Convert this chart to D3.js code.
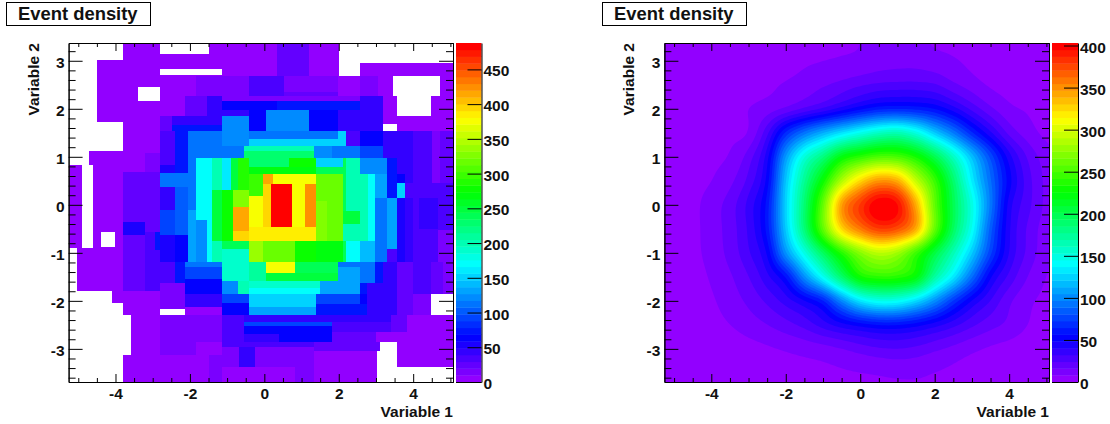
<!DOCTYPE html>
<html>
<head>
<meta charset="utf-8">
<title>Event density</title>
<script src="https://cdn.jsdelivr.net/npm/d3@7"></script>
<style>
  body { margin: 0; background: #ffffff; }
  text { font-family: "Liberation Sans", Arial, sans-serif; font-weight: bold; fill: #111111; }
</style>
</head>
<body>
<svg id="chart" width="1110" height="424"></svg>
<script>
const titleText = 'Event density';
const xLabel = 'Variable 1';
const yLabel = 'Variable 2';

const xDomain = [-5.26, 5.07];
const yDomain = [3.37, -3.69];
const xMajor = [-4, -2, 0, 2, 4];
const yMajor = [-3, -2, -1, 0, 1, 2, 3];
const leftScaleMax = 488;
const rightScaleMax = 403;
const leftScaleTicks = [0, 50, 100, 150, 200, 250, 300, 350, 400, 450];
const rightScaleTicks = [0, 50, 100, 150, 200, 250, 300, 350, 400];

// left plot: adaptive bins, [x0, x1, yTop, yBottom, events]. later cells sit on top
const foamCells = [
  [-3.80,2.01,3.37,2.69,8],[-4.50,-3.80,3.02,1.73,8],[-3.80,-1.84,2.69,2.26,8],[-3.80,-2.13,2.26,1.84,8],
  [-3.80,-2.80,1.84,1.08,8],[-4.71,-3.21,1.13,.83,8],[-4.60,-3.80,.83,-.90,8],[-5.26,-4.90,.83,-.90,8],
  [-3.80,-3.21,.83,.69,8],[-5.03,-3.80,-.90,-1.79,8],[-4.09,-3.80,-1.79,-2.04,8],[-3.80,-2.80,-1.79,-2.29,8],
  [-3.58,-2.80,-2.29,-3.13,8],[-3.80,-1.49,-3.13,-3.69,8],
  [-4.39,-4.01,-.56,-.88,0],[-3.40,-2.80,2.46,2.17,0],[-2.80,-1.14,2.83,2.71,0],[-2.80,-1.49,3.37,3.15,0],
  [.34,1.20,3.37,3.10,20],[.34,1.20,3.10,2.69,25],[2.57,5.07,2.96,2.69,8],
  [-1.84,-.41,2.69,2.26,17],[-.41,.53,2.69,2.26,37],[.53,1.98,2.69,2.34,17],[.53,1.98,2.34,2.26,25],
  [1.98,2.57,2.69,2.26,8],[2.57,3.06,2.69,2.26,17],[3.06,3.46,2.69,2.26,8],[4.72,5.07,2.69,2.26,8],
  [-2.13,-1.54,2.26,1.84,25],[-1.54,-1.14,2.26,1.84,45],[-1.14,2.57,2.26,2.17,14],[-1.14,.34,2.17,1.98,62],
  [.34,2.57,2.17,1.98,70],[-1.14,-.41,1.98,1.84,45],[-.41,.05,1.98,1.54,68],[.05,1.20,1.98,1.54,122],
  [1.20,1.98,1.98,1.54,64],[1.98,2.57,1.98,1.54,45],[2.57,3.19,2.26,1.54,42],[3.19,3.57,2.26,1.69,8],
  [4.48,5.07,2.26,1.84,8],[3.57,5.07,1.84,1.54,8],
  [-2.80,-2.47,1.84,1.54,20],[-2.47,-1.14,1.84,1.67,45],[-2.47,-1.14,1.67,1.54,70],
  [-1.14,-.41,1.84,1.23,122],[-1.14,-.55,1.23,.98,115],
  [-2.80,-2.40,1.54,.83,37],[-2.80,-2.40,.83,.67,55],[-2.80,-2.05,.67,.38,110],[-2.80,-2.40,.38,-.10,42],
  [-2.80,-2.40,-.10,-.63,95],[-2.80,-2.40,-.63,-1.19,55],[-2.40,-2.05,1.54,.67,70],[-2.40,-2.05,.38,-.63,100],
  [-2.40,-2.05,-.63,-1.19,62],[-2.05,-1.84,1.54,-.10,110],[-2.05,-1.84,-.10,-1.19,136],[-1.84,-1.14,1.54,.98,110],
  [-.41,1.98,1.54,1.38,110],[-.41,2.20,1.38,1.23,148],[1.98,2.20,1.54,1.38,148],[2.20,2.57,1.54,1.23,37],
  [2.57,3.19,1.54,1.23,66],[3.19,4.00,1.54,.98,44],[4.00,4.51,1.54,.15,37],[4.51,4.72,1.54,.46,14],
  [4.72,5.07,1.54,.46,24],[4.51,5.07,.46,.15,34],[3.57,4.00,.98,.65,44],[3.30,3.57,.98,.15,70],
  [3.57,3.78,.65,.46,62],[3.78,4.00,.65,.46,45],[3.57,3.78,.46,.15,148],[3.78,4.00,.46,.15,37],
  [3.57,3.78,.15,-1.19,55],[3.78,4.00,.15,-1.19,40],[4.00,4.16,.15,-1.19,37],[4.16,4.67,.15,-.50,44],
  [4.16,4.67,-.50,-1.19,37],[4.67,5.07,.15,-.52,37],[4.67,5.07,-.52,-1.19,14],
  [-.55,1.34,1.23,1.13,200],[-.55,1.34,1.13,.98,233],[1.34,1.82,1.23,.98,122],[1.82,2.57,1.23,.98,110],[2.57,3.19,1.23,.98,90],
  [-1.84,-1.41,.98,-.31,174],[-1.41,-1.14,.98,.31,200],[-1.14,-.90,.98,.31,165],[-.90,-.71,.98,.31,250],[-.71,-.41,.98,.31,285],
  [-.41,.66,.98,.79,233],[.66,1.39,.98,.79,275],[-.41,1.39,.79,.65,265],[1.39,2.12,.98,.79,148],[2.12,2.20,.98,.65,235],
  [1.39,2.12,.79,.65,240],[2.20,2.57,.98,.65,200],[2.57,3.30,.98,.65,122],
  [-.41,-.03,.65,.19,300],[-.03,.23,.65,.44,410],[.23,1.39,.65,.44,371],[-.03,.18,.44,-.46,395],[.18,.74,.44,-.46,485],
  [.74,1.09,.44,-.46,371],[1.09,1.39,.44,-.46,422],[-.41,-.03,.19,-.46,371],[-.84,-.41,.31,-.04,330],[-.84,-.41,-.04,-.54,410],
  [-.84,-.41,-.54,-.75,395],[-.41,1.39,-.46,-.75,383],[-1.14,-.84,.31,-.75,279],[-1.41,-1.14,.31,-.75,245],
  [-1.84,-1.54,-.31,-1.19,122],[-1.54,-1.41,-.31,-1.19,174],[-1.41,-1.14,-.75,-1.19,200],[-1.14,-.41,-.75,-.92,235],
  [-1.14,-.41,-.92,-1.58,195],[-.41,-.03,-.75,-1.19,340],[-.03,.83,-.75,-1.19,318],[.83,1.39,-.75,-1.19,279],
  [1.39,2.12,-.75,-1.19,265],[2.12,2.20,-.75,-1.19,235],
  [1.39,2.12,.65,.08,315],[1.39,1.69,.08,-.75,330],[1.69,2.12,.08,-.75,315],[2.12,2.20,.65,-.13,235],
  [2.20,2.57,.65,-.13,200],[2.12,2.57,-.13,-.40,245],[2.12,2.57,-.40,-.75,200],[2.57,2.79,.65,-.75,200],[2.79,2.98,.65,-.75,174],
  [2.98,3.30,.65,.15,130],[2.98,3.30,.15,-1.19,110],[3.30,3.57,.15,-.92,136],[3.30,3.57,-.92,-1.19,37],
  [2.20,2.57,-.75,-1.19,174],[2.57,2.98,-.75,-1.19,140],
  [-2.80,-2.40,-1.19,-1.63,37],[-2.40,-2.13,-1.19,-1.63,70],[-2.13,-1.14,-1.19,-1.29,110],[-2.13,-1.14,-1.29,-1.54,95],
  [-2.13,-1.14,-1.54,-1.85,66],[-1.14,-.71,-1.58,-1.85,122],[-.71,-.41,-1.58,-1.85,200],[-.41,.05,-1.19,-1.58,208],
  [.05,.83,-1.19,-1.42,371],[.83,1.98,-1.19,-1.42,240],[.05,1.98,-1.42,-1.58,250],[-.41,1.50,-1.58,-1.73,190],
  [-.41,1.50,-1.73,-1.85,170],[1.50,1.98,-1.58,-1.85,130],[1.98,2.57,-1.19,-1.29,115],[1.98,2.57,-1.29,-1.85,130],
  [2.57,2.98,-1.19,-1.63,110],[2.98,3.19,-1.19,-1.63,70],[3.19,3.57,-1.19,-1.63,44],[3.57,4.00,-1.19,-2.29,25],
  [4.00,4.48,-1.19,-1.85,37],[4.48,4.80,-1.19,-1.85,20],[4.80,5.07,-1.19,-1.85,14],[4.00,4.48,-1.85,-2.29,14],
  [2.57,2.76,-1.63,-1.85,70],[2.76,3.57,-1.63,-2.06,42],
  [-2.13,-1.14,-1.85,-2.13,44],[-2.13,-1.14,-2.13,-2.29,8],[-2.80,-2.13,-1.63,-2.17,17],[-1.14,-.41,-1.85,-2.04,95],
  [-1.14,-.41,-2.04,-2.29,62],[-.41,1.39,-1.85,-2.13,148],[-.41,1.39,-2.13,-2.29,136],[1.39,2.57,-1.85,-2.06,88],
  [2.57,2.76,-1.85,-2.06,62],[1.39,2.76,-2.06,-2.29,70],[2.76,3.57,-2.06,-2.29,42],
  [-.55,3.41,-2.29,-2.44,44],[-2.80,-1.84,-2.29,-3.13,17],[-1.84,-1.14,-2.29,-2.85,17],[-1.84,-1.14,-2.85,-3.13,8],
  [-1.14,-.55,-2.29,-2.85,37],[-.55,1.82,-2.44,-2.52,90],[-.55,1.82,-2.52,-2.69,62],[-.55,.40,-2.69,-2.85,44],
  [.40,1.82,-2.69,-2.85,62],[1.82,3.41,-2.44,-2.65,37],[3.41,3.84,-2.29,-2.65,25],[3.84,5.07,-2.29,-2.65,8],
  [1.82,3.00,-2.65,-2.85,24],[3.00,5.07,-2.65,-2.85,8],[-1.14,1.34,-2.85,-2.96,33],[1.34,3.11,-2.85,-3.04,25],
  [3.57,5.07,-2.85,-3.38,8],[-1.14,-.68,-2.96,-3.38,17],[-.68,-.25,-2.96,-3.38,44],[-.25,1.34,-2.96,-3.38,15],
  [1.34,3.03,-3.04,-3.69,8],[-1.49,-1.14,-3.13,-3.69,18],[-1.14,.83,-3.38,-3.69,8],[.83,1.34,-3.38,-3.69,18],
  [-3.80,-3.21,.69,-.35,20],[-3.21,-2.80,1.08,.69,17],[-3.21,-2.80,.69,-.56,25],[-3.80,-3.21,-.35,-.63,50],
  [-3.80,-3.21,-.63,-1.79,20],[-3.21,-2.94,-.56,-1.79,30],[-2.94,-2.80,-.56,-.94,70],[-2.94,-2.80,-.94,-1.79,30],
  [-2.80,-2.13,-1.63,-1.79,17]
];

// right plot: density read on a regular grid
const gridX = [-5.5,-5,-4.5,-4,-3.5,-3,-2.5,-2,-1.5,-1,-.5,0,.5,1,1.5,2,2.5,3,3.5,4,4.5,5,5.5];
const gridY = [3.5,3,2.5,2,1.5,1,.5,0,-.5,-1,-1.5,-2,-2.5,-3,-3.5,-4];
const gridZ = [
  [0,0,0,1,1,2,3,4,5,6,7,8,9,9,9,7,6,4,3,2,1,1,0],
  [0,0,1,1,2,3,4,5,7,8,9,10,12,13,13,11,9,6,4,3,2,1,1],
  [0,1,1,2,3,4,6,9,12,15,19,23,26,27,27,25,18,12,7,5,3,2,1],
  [1,1,2,3,5,8,12,18,26,34,44,54,62,64,62,56,44,30,18,10,7,4,2],
  [1,2,3,4,6,9,30,66,92,112,130,146,160,165,150,122,95,66,42,22,12,6,3],
  [1,2,3,6,9,20,45,105,152,184,222,240,252,250,232,200,160,118,78,44,23,12,6],
  [2,3,5,8,14,27,52,120,176,228,285,325,348,340,292,245,190,135,90,52,28,14,7],
  [2,4,6,12,20,35,60,125,188,260,345,380,403,395,340,259,199,149,94,45,27,14,7],
  [2,4,6,12,20,34,60,122,186,258,325,358,378,372,340,260,195,144,85,42,23,12,6],
  [2,3,6,11,19,31,50,103,149,195,238,272,290,280,246,205,165,122,75,40,22,11,5],
  [2,3,5,9,15,24,38,58,102,144,190,230,240,238,222,172,133,90,50,30,16,8,4],
  [1,2,4,7,12,18,26,36,48,64,100,132,146,144,128,102,72,48,32,18,10,6,3],
  [1,1,3,5,8,12,16,21,27,36,45,52,57,57,52,44,35,26,19,14,8,4,2],
  [0,1,1,2,3,5,7,9,11,13,16,20,23,24,22,18,14,10,7,5,3,2,1],
  [0,0,1,1,2,2,3,4,5,6,7,8,9,10,10,8,6,4,3,2,1,1,0],
  [0,0,0,1,1,1,2,2,3,3,4,4,5,5,5,4,3,2,2,1,1,0,0]
];

// ROOT "pretty" palette, 50 hues from violet to red
const palette = d3.range(50).map(i => d3.hsl(280 - (i + 1) * 5.6, 1, 0.5).formatRgb());

const svg = d3.select('#chart');
const plotTop = 43, plotBottom = 382;
const yScale = d3.scaleLinear().domain(yDomain).range([plotTop, plotBottom]);

function bandColor(v, max) {
  if (v <= 0) return '#ffffff';
  return palette[Math.min(49, Math.floor(v / max * 50))];
}

// catmull-rom smoothing of the read grid, only so the contours come out round
function catmull(a, b, c, d, t) {
  return 0.5 * (2 * b + (c - a) * t + (2 * a - 5 * b + 4 * c - d) * t * t + (3 * b - a - 3 * c + d) * t * t * t);
}

function upsample(rows, k) {
  const ny = rows.length, nx = rows[0].length;
  const w = (nx - 1) * k + 1, h = (ny - 1) * k + 1;
  const out = new Array(w * h);
  const at = (j, i) => rows[Math.max(0, Math.min(ny - 1, j))][Math.max(0, Math.min(nx - 1, i))];
  for (let y = 0; y < h; y++) {
    const j = Math.min(ny - 2, Math.floor(y / k)), tj = y / k - j;
    for (let x = 0; x < w; x++) {
      const i = Math.min(nx - 2, Math.floor(x / k)), ti = x / k - i;
      const col = [-1, 0, 1, 2].map(dj => catmull(at(j + dj, i - 1), at(j + dj, i), at(j + dj, i + 1), at(j + dj, i + 2), ti));
      out[y * w + x] = Math.max(0, catmull(col[0], col[1], col[2], col[3], tj));
    }
  }
  return { values: out, w: w, h: h };
}

function drawTitle(g, x) {
  g.append('rect')
    .attr('x', x + 0.5).attr('y', 2.5)
    .attr('width', 144).attr('height', 23)
    .attr('fill', '#ffffff').attr('stroke', '#000000');
  g.append('text')
    .attr('x', x + 12).attr('y', 20)
    .attr('font-size', 18.4)
    .text(titleText);
}

function drawAxes(g, xScale) {
  const xMinor = d3.range(-5, 5.01, 0.5).filter(v => v % 2 !== 0);
  const yMinor = d3.range(-3.6, 3.31, 0.2).map(v => +v.toFixed(1)).filter(v => v % 1 !== 0);
  const fontSize = 15.5;
  const plain = d => String(d);

  const bottom = g.append('g').attr('transform', `translate(0,${plotBottom})`);
  bottom.call(d3.axisBottom(xScale).tickValues(xMajor).tickSizeInner(-8).tickSizeOuter(0).tickPadding(6).tickFormat(plain));
  bottom.append('g').call(d3.axisBottom(xScale).tickValues(xMinor).tickSizeInner(-4).tickSizeOuter(0).tickFormat(''));

  const top = g.append('g').attr('transform', `translate(0,${plotTop})`);
  top.call(d3.axisTop(xScale).tickValues(xMajor).tickSizeInner(-8).tickSizeOuter(0).tickFormat(''));
  top.append('g').call(d3.axisTop(xScale).tickValues(xMinor).tickSizeInner(-4).tickSizeOuter(0).tickFormat(''));

  const left = g.append('g').attr('transform', `translate(${xScale.range()[0]},0)`);
  left.call(d3.axisLeft(yScale).tickValues(yMajor).tickSizeInner(-14).tickSizeOuter(0).tickPadding(4).tickFormat(plain));
  left.append('g').call(d3.axisLeft(yScale).tickValues(yMinor).tickSizeInner(-7).tickSizeOuter(0).tickFormat(''));

  const right = g.append('g').attr('transform', `translate(${xScale.range()[1]},0)`);
  right.call(d3.axisRight(yScale).tickValues(yMajor).tickSizeInner(-14).tickSizeOuter(0).tickFormat(''));
  right.append('g').call(d3.axisRight(yScale).tickValues(yMinor).tickSizeInner(-7).tickSizeOuter(0).tickFormat(''));

  g.selectAll('.tick text')
    .attr('font-size', fontSize)
    .attr('font-family', '"Liberation Sans", Arial, sans-serif')
    .attr('font-weight', 'bold');
  g.selectAll('path.domain, .tick line').attr('stroke', '#000000');
  left.selectAll('.tick text').attr('dy', '0.42em');

  // axis titles
  g.append('text')
    .attr('x', xScale.range()[1]).attr('y', 417)
    .attr('text-anchor', 'end')
    .attr('font-size', fontSize)
    .text(xLabel);
  g.append('text')
    .attr('transform', `translate(${xScale.range()[0] - 30},${plotTop}) rotate(-90)`)
    .attr('text-anchor', 'end')
    .attr('font-size', fontSize)
    .text(yLabel);
}

function drawColorBar(g, x0, x1, max, ticks) {
  const barScale = d3.scaleLinear().domain([0, max]).range([plotBottom, plotTop]);
  const bandHeight = max / palette.length;
  g.selectAll('rect.band')
    .data(palette)
    .enter().append('rect')
    .attr('class', 'band')
    .attr('x', x0)
    .attr('width', x1 - x0)
    .attr('y', (d, i) => barScale((i + 1) * bandHeight))
    .attr('height', barScale(0) - barScale(bandHeight) + 0.4)
    .attr('fill', d => d);
  const axis = g.append('g').attr('transform', `translate(${x1},0)`);
  axis.call(d3.axisRight(barScale).tickValues(ticks).tickSizeInner(-14).tickSizeOuter(0).tickPadding(2).tickFormat(d => String(d)));
  axis.selectAll('.tick text')
    .attr('font-size', 15.5)
    .attr('font-family', '"Liberation Sans", Arial, sans-serif')
    .attr('font-weight', 'bold')
    .attr('dy', '0.42em');
  axis.selectAll('path.domain, .tick line').attr('stroke', '#000000');
  // bottom edge of the bar
  g.append('line')
    .attr('x1', x0).attr('x2', x1)
    .attr('y1', plotBottom + 0.5).attr('y2', plotBottom + 0.5)
    .attr('stroke', '#000000');
}

// left panel, binned
const leftPanel = svg.append('g');
const xLeft = d3.scaleLinear().domain(xDomain).range([68.6, 453]);

leftPanel.selectAll('rect.cell')
  .data(foamCells)
  .enter().append('rect')
  .attr('class', 'cell')
  .attr('x', d => xLeft(d[0]))
  .attr('y', d => yScale(d[2]))
  .attr('width', d => xLeft(d[1]) - xLeft(d[0]))
  .attr('height', d => yScale(d[3]) - yScale(d[2]))
  .attr('shape-rendering', 'crispEdges')
  .attr('fill', d => bandColor(d[4], leftScaleMax));

drawTitle(leftPanel, 6);
drawAxes(leftPanel, xLeft);
drawColorBar(leftPanel, 456, 481.5, leftScaleMax, leftScaleTicks);

// right panel, smooth density
const rightPanel = svg.append('g');
const xRight = d3.scaleLinear().domain(xDomain).range([664.4, 1049]);
const upFactor = 8;
const fine = upsample(gridZ, upFactor);
const thresholds = palette.map((d, i) => i * rightScaleMax / palette.length);
const contours = d3.contours().size([fine.w, fine.h]).thresholds(thresholds)(fine.values);

const gridStepX = gridX[1] - gridX[0];
const gridStepY = gridY[1] - gridY[0];
const gridPath = d3.geoPath(d3.geoTransform({
  point: function(cx, cy) {
    this.stream.point(
      xRight(gridX[0] + (cx - 0.5) / upFactor * gridStepX),
      yScale(gridY[0] + (cy - 0.5) / upFactor * gridStepY)
    );
  }
}));

svg.append('defs').append('clipPath').attr('id', 'rightClip')
  .append('rect')
  .attr('x', xRight(xDomain[0])).attr('y', plotTop)
  .attr('width', xRight(xDomain[1]) - xRight(xDomain[0]))
  .attr('height', plotBottom - plotTop);

const contourGroup = rightPanel.append('g').attr('clip-path', 'url(#rightClip)');
contourGroup.selectAll('path')
  .data(contours)
  .enter().append('path')
  .attr('d', gridPath)
  .attr('fill', (d, i) => palette[i]);

drawTitle(rightPanel, 602);
drawAxes(rightPanel, xRight);
drawColorBar(rightPanel, 1052, 1078, rightScaleMax, rightScaleTicks);
</script>
</body>
</html>
